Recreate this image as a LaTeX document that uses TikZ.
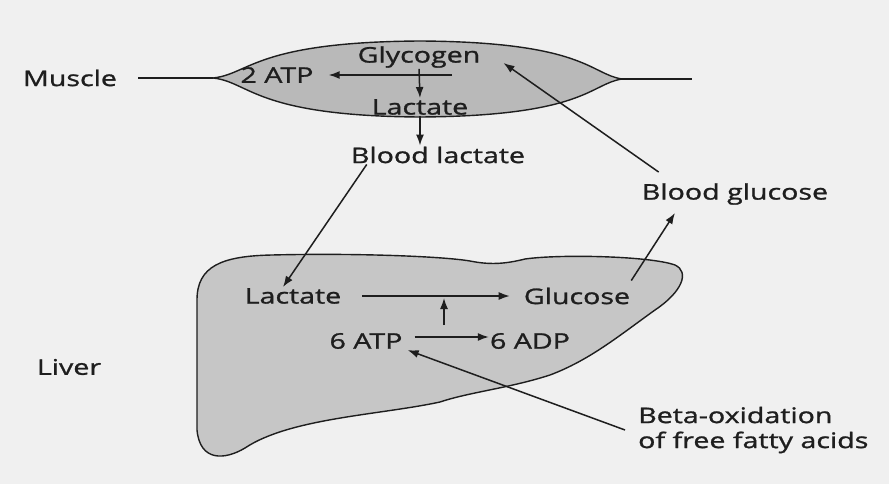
\documentclass[tikz,border=0pt]{standalone}
\usepackage{fontspec}
\setmainfont{Open Sans}[FakeStretch=1.33, FakeBold=1.2]
\usepackage{xcolor}
\usetikzlibrary{arrows.meta,positioning}

\definecolor{paper}{HTML}{F0F0F0}
\definecolor{tissue}{HTML}{B9B9B9}
\definecolor{liverfill}{HTML}{C6C6C6}
\definecolor{ink}{HTML}{1E1E1E}

\begin{document}
\begin{tikzpicture}[x=1pt, y=-1pt,
  lbl/.style={font=\fontsize{21.5}{25}\selectfont, text=ink, inner sep=1pt},
  organ/.style={draw=ink, line width=1.4pt},
  line/.style={draw=ink, line width=1.5pt},
  arr/.style={line, -{Latex[length=11pt,width=8pt]}}
]
% Background and frame
\fill[paper] (0,0) rectangle (889,484);
\useasboundingbox (0,0) rectangle (889,484);

% Muscle
\coordinate (mtipL) at (213,78);
\coordinate (mtipR) at (622,79);
\draw[organ, fill=tissue] (mtipL)
  .. controls (250,74) and (255,42) .. (420,41)
  .. controls (585,42) and (590,74) .. (mtipR)
  .. controls (590,84) and (585,116) .. (420,117)
  .. controls (255,116) and (250,82) .. (mtipL) -- cycle;

% Liver
\draw[organ, fill=liverfill] (197,300)
  .. controls (197,266) and (222,256) .. (272,255)
  .. controls (350,253) and (440,256) .. (470,261)
  .. controls (490,265) and (505,264) .. (525,259)
  .. controls (560,254) and (650,256) .. (675,265)
  .. controls (690,272) and (682,292) .. (655,310)
  .. controls (620,335) and (590,360) .. (550,375)
  .. controls (510,388) and (470,392) .. (440,402)
  .. controls (380,415) and (290,418) .. (245,448)
  .. controls (225,460) and (200,462) .. (197,430) -- cycle;

% Labels
\node[lbl] (muscle)   at (70,78)   {Muscle};
\node[lbl] (atp2)     at (277,75)  {2 ATP};
\node[lbl] (glycogen) at (419,57)  {Glycogen};
\node[lbl] (mlac)     at (420,107) {Lactate};
\node[lbl] (bloodlac) at (438,155) {Blood lactate};
\node[lbl] (bloodglu) at (735,194) {Blood glucose};
\node[lbl] (liver)    at (69,367)  {Liver};
\node[lbl] (llac)     at (293,296) {Lactate};
\node[lbl] (glucose)  at (577,296) {Glucose};
\node[lbl] (atp6)     at (366,341) {6 ATP};
\node[lbl] (adp6)     at (530,341) {6 ADP};
\node[lbl, align=left, anchor=west] (beta) at (637,430) {Beta-oxidation\\of free fatty acids};

% Muscle fibre ends
\draw[line] ([xshift=20pt]muscle.east) -- (mtipL);
\draw[line] (mtipR) -- ++(70,0);

% Glycolysis in muscle
\coordinate (split) at (452,75);
\coordinate (drive) at (444,325);
\draw[arr] (split) -- ([xshift=14pt]atp2.east);
\draw[arr] (glycogen.south) -- (mlac.north);
\draw[arr] (mlac.south) -- (mlac.south |- bloodlac.north);

% Transport between organs
\draw[arr] ([xshift=17pt]bloodlac.south west) -- ([xshift=-10pt]llac.north);
\draw[arr] ([yshift=6pt]glucose.north east) -- ([xshift=-60pt,yshift=-7pt]bloodglu.south);
\draw[arr] ([xshift=18pt,yshift=10pt]bloodglu.north west) -- ([xshift=22pt,yshift=-6pt]glycogen.east);

% Gluconeogenesis in liver
\draw[arr] ([xshift=20pt]llac.east) -- ([xshift=-13pt]glucose.west);
\draw[arr] ([xshift=11pt,yshift=4pt]atp6.east) -- ([yshift=4pt]adp6.west);
\draw[arr] (drive) -- ([yshift=-2pt]drive |- llac.east);
\draw[arr] ([xshift=-12pt]beta.west) -- ([xshift=4pt]atp6.south east);
\end{tikzpicture}
\end{document}
